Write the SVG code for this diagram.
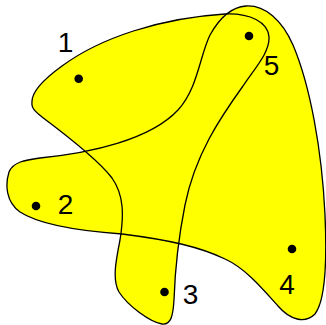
<svg xmlns="http://www.w3.org/2000/svg" width="326" height="325" viewBox="0 0 326 325">
<style>
.fill{fill:#ffff00;stroke:none}
.line{fill:none;stroke:#000;stroke-width:1.3}
.dot{fill:#000}
.lbl{font-family:"Liberation Sans","DejaVu Sans",sans-serif;font-size:28px;fill:#000;text-anchor:middle}
</style>
<defs>
<path id="hA" d="M 32,103 C 31,93 44,79 62,66 C 100,38 160,18 225,14 C 250,13 268,22 269,37 C 270,52 255,68 243,86 C 220,118 195,155 185,205 C 178,240 175,270 174,300 C 173,316 171,325 162,324 C 150,322 128,306 119,292 C 112,280 116,260 120,240 C 124,215 124,195 112,178 C 100,162 70,138 42,117 C 36,112 31,108 32,103 Z"/>
<path id="hB" d="M 246,6 C 265,5 282,20 293,45 C 310,85 322,150 325,215 C 327,260 326,300 315,314 C 305,324 290,320 278,306 C 262,288 245,268 225,259 C 200,247 170,240 122,234 C 80,231 40,225 20,212 C 6,202 5,185 9,172 C 13,162 25,160 40,158 C 90,153 150,140 178,110 C 198,88 200,55 210,35 C 220,17 232,7 246,6 Z"/>
</defs>
<g id="connectors">
<use href="#hA" class="fill"/>
<use href="#hB" class="fill"/>
<use href="#hA" class="line"/>
<use href="#hB" class="line"/>
</g>
<g id="node1"><circle class="dot" cx="78.7" cy="78.7" r="4.3"/><text class="lbl" x="65.5" y="52">1</text></g>
<g id="node2"><circle class="dot" cx="36" cy="206" r="4.3"/><text class="lbl" x="65.5" y="214">2</text></g>
<g id="node3"><circle class="dot" cx="164.5" cy="292" r="4.3"/><text class="lbl" x="190.5" y="304">3</text></g>
<g id="node4"><circle class="dot" cx="292" cy="249" r="4.3"/><text class="lbl" x="287" y="294">4</text></g>
<g id="node5"><circle class="dot" cx="249" cy="36" r="4.3"/><text class="lbl" x="271.5" y="75">5</text></g>
</svg>
